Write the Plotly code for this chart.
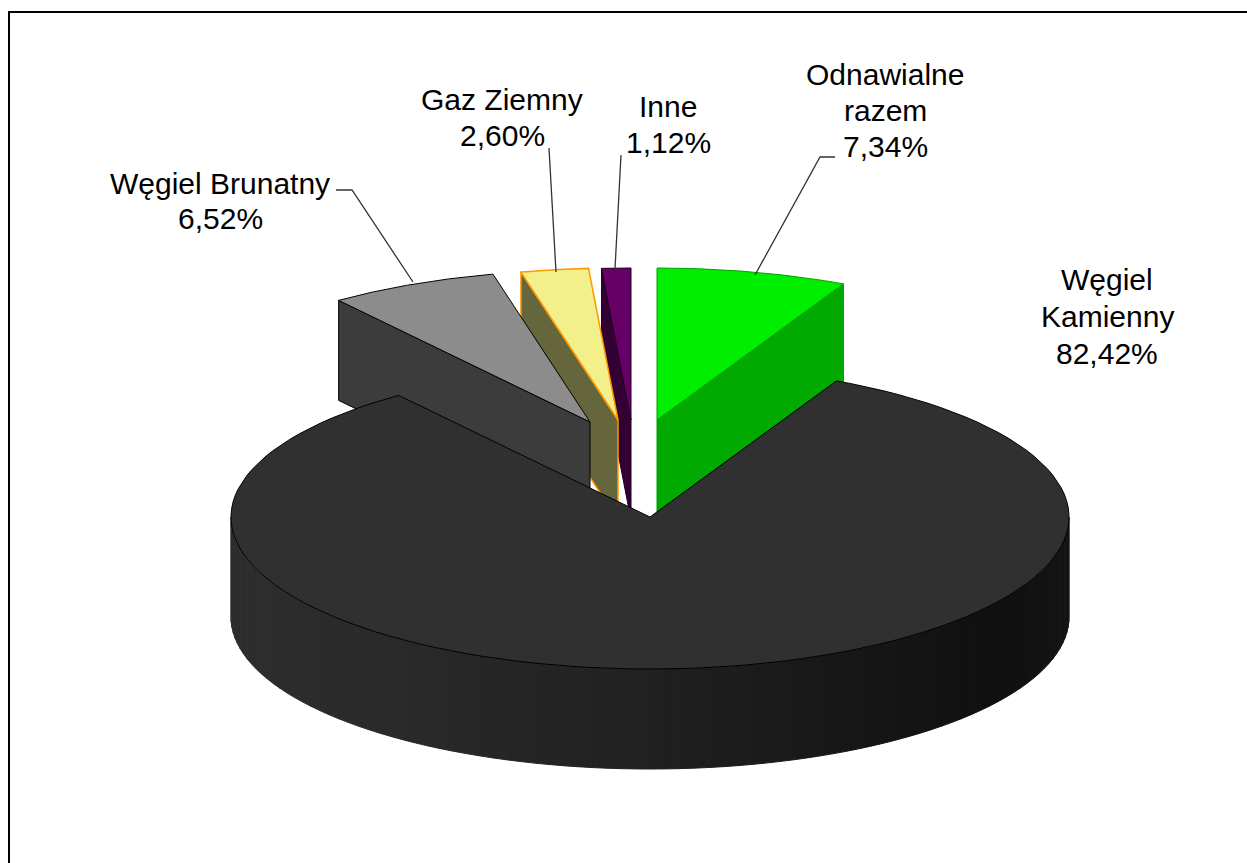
import numpy as np
import plotly.graph_objects as go

# --- data ---
categories = ["Odnawialne razem", "Węgiel Kamienny", "Węgiel Brunatny", "Gaz Ziemny", "Inne"]
shares = [7.34, 82.42, 6.52, 2.60, 1.12]

# --- geometry / style ---
RX, RY, DEPTH = 419, 152, 100
apex = {"Odnawialne razem": (657, 420), "Węgiel Kamienny": (650, 517),
        "Węgiel Brunatny": (590, 422), "Gaz Ziemny": (618, 420), "Inne": (631, 420)}
top_col = {"Odnawialne razem": "#00ee00", "Węgiel Kamienny": "#303030",
           "Węgiel Brunatny": "#8c8c8c", "Gaz Ziemny": "#f3f08c", "Inne": "#660066"}
side_col = {"Odnawialne razem": "#00aa00", "Węgiel Brunatny": "#3c3c3c",
            "Gaz Ziemny": "#66663c", "Inne": "#330033"}
edge_col = {"Odnawialne razem": "#00a000", "Węgiel Kamienny": "#000000",
            "Węgiel Brunatny": "#000000", "Gaz Ziemny": "#ff9900", "Inne": "#220022"}
label_lines = {"Odnawialne razem": (["Odnawialne", "razem"], 885, [74, 110, 146]),
               "Węgiel Kamienny": (["Węgiel", "Kamienny"], 1107, [279, 316, 353]),
               "Węgiel Brunatny": (["Węgiel Brunatny"], 220, [183, 218]),
               "Gaz Ziemny": (["Gaz Ziemny"], 502, [99, 135]),
               "Inne": (["Inne"], 668, [106, 142])}
leaders = [([336, 352, 413], [190, 190, 282]),
           ([549, 556], [148, 272]),
           ([621, 615], [155, 269]),
           ([835, 820, 755], [157, 157, 275])]

edges = np.concatenate([[0], np.cumsum(shares)]) / sum(shares) * 2 * np.pi
angles = {c: (edges[i], edges[i + 1]) for i, c in enumerate(categories)}

fig = go.Figure()


def poly(xs, ys, fill, line, width=1):
    fig.add_trace(go.Scatter(x=list(xs) + [xs[0]], y=list(ys) + [ys[0]], mode="lines", fill="toself",
                             fillcolor=fill, line=dict(color=line, width=width),
                             hoverinfo="skip", showlegend=False))


def arc(c, t0, t1, drop=0, n=120):
    t = np.linspace(t0, t1, n)
    ax, ay = apex[c]
    return ax + RX * np.sin(t), ay - RY * np.cos(t) + drop


def top_face(c, width=1):
    ax, ay = apex[c]
    x, y = arc(c, *angles[c])
    poly([ax, *x], [ay, *y], top_col[c], edge_col[c], width)


def wedge(c, which, width=1):
    """Exploded slice: extrude the visible cut edge, then lay the top face over it."""
    ax, ay = apex[c]
    x, y = arc(c, *angles[c], n=2)
    ex, ey = x[which], y[which]
    poly([ax, ex, ex, ax], [ay, ey, ey + DEPTH, ay + DEPTH], side_col[c], edge_col[c], width)
    top_face(c, width)


# back slices first; the green slice shows its end cut, the left ones their start cut
wedge("Odnawialne razem", 1)
wedge("Inne", 0)
wedge("Gaz Ziemny", 0, 1.5)
wedge("Węgiel Brunatny", 0)

# big slice: outer wall with shading, then top face
c = "Węgiel Kamienny"
stops_x = [231, 400, 650, 1000, 1069]
stops_v = [46, 42, 33, 16, 21]
ts = np.linspace(np.pi / 2, 3 * np.pi / 2, 91)
for a, b in zip(ts[:-1], ts[1:]):
    xa, ya = arc(c, a, b, n=4)
    xb, yb = arc(c, b, a, drop=DEPTH, n=4)
    v = int(np.interp((xa[0] + xa[-1]) / 2, stops_x, stops_v))
    col = f"rgb({v},{v},{v})"
    poly([*xa, *xb], [*ya, *yb], col, col, 1)
top_face(c)

for lx, ly in leaders:
    fig.add_trace(go.Scatter(x=lx, y=ly, mode="lines", line=dict(color="#333333", width=1.3),
                             hoverinfo="skip", showlegend=False))

for c, v in zip(categories, shares):
    names, cx, ys = label_lines[c]
    for txt, yy in zip(names + [f"{v:.2f}".replace(".", ",") + "%"], ys):
        fig.add_annotation(x=cx, y=yy, text=txt, showarrow=False, xanchor="center", yanchor="middle",
                           font=dict(family="Liberation Sans", size=30, color="#000000"))

# chart frame, running off the page on the right and bottom
fig.add_shape(type="rect", x0=9, y0=12, x1=1300, y1=900, line=dict(color="#000000", width=2))

fig.update_layout(width=1247, height=863, margin=dict(l=0, r=0, t=0, b=0),
                  paper_bgcolor="white", plot_bgcolor="white", showlegend=False,
                  xaxis=dict(range=[0, 1247], visible=False, fixedrange=True),
                  yaxis=dict(range=[863, 0], visible=False, fixedrange=True))

fig.write_html("out.html", config={"displayModeBar": False},
               post_script="document.body.style.margin='0';document.body.style.overflow='hidden';")
